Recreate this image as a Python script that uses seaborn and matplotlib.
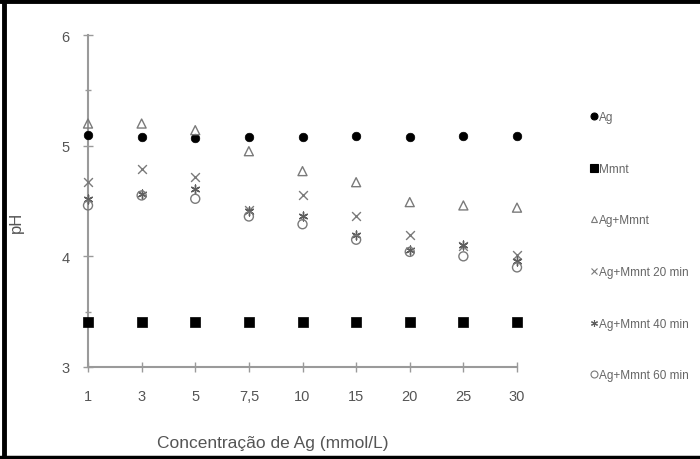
import matplotlib
matplotlib.use("Agg")
import matplotlib.pyplot as plt
from matplotlib.lines import Line2D
from matplotlib.ticker import MultipleLocator
import seaborn as sns
import pandas as pd

# Ag concentration levels (mmol/L) and the pH measured for each treatment
concentracoes = ["1", "3", "5", "7,5", "10", "15", "20", "25", "30"]
ph_ag = [5.10, 5.08, 5.07, 5.08, 5.08, 5.09, 5.08, 5.09, 5.09]
ph_mmnt = [3.41, 3.41, 3.41, 3.41, 3.41, 3.41, 3.41, 3.41, 3.41]
ph_ag_mmnt = [5.20, 5.20, 5.14, 4.95, 4.77, 4.67, 4.49, 4.46, 4.44]
ph_20min = [4.67, 4.79, 4.72, 4.42, 4.55, 4.36, 4.19, 4.09, 4.01]
ph_40min = [4.52, 4.56, 4.61, 4.41, 4.36, 4.19, 4.06, 4.10, 3.96]
ph_60min = [4.46, 4.55, 4.52, 4.36, 4.29, 4.15, 4.04, 4.00, 3.90]

series = [
    ("Ag", ph_ag, "o", "#000000", True, 38),
    ("Mmnt", ph_mmnt, "s", "#000000", True, 60),
    ("Ag+Mmnt", ph_ag_mmnt, "^", "#7a7a7a", False, 42),
    ("Ag+Mmnt 20 min", ph_20min, "x", "#7a7a7a", None, 40),
    ("Ag+Mmnt 40 min", ph_40min, (6, 2, 0), "#5e5e5e", None, 40),
    ("Ag+Mmnt 60 min", ph_60min, "o", "#7a7a7a", False, 42),
]

sns.set_style("white")
plt.rcParams["font.family"] = ["Liberation Sans", "DejaVu Sans"]

fig = plt.figure(figsize=(7.0, 4.6), dpi=100)
ax = fig.add_axes([88 / 700, 92 / 460, 429 / 700, 332 / 460])

for nome, valores, marcador, cor, cheio, tamanho in series:
    df = pd.DataFrame({"conc": concentracoes, "pH": valores})
    if cheio is True:
        sns.scatterplot(data=df, x="conc", y="pH", ax=ax, marker=marcador,
                        s=tamanho, color=cor, edgecolor=cor, linewidth=0.5,
                        zorder=3, clip_on=False)
    elif cheio is False:
        sns.scatterplot(data=df, x="conc", y="pH", ax=ax, marker=marcador,
                        s=tamanho, facecolors="none", edgecolors=cor,
                        linewidth=1.0, zorder=3, clip_on=False)
    else:
        sns.scatterplot(data=df, x="conc", y="pH", ax=ax, marker=marcador,
                        s=tamanho, color=cor, linewidth=1.0, zorder=3,
                        clip_on=False)

ax.set_xlim(0, len(concentracoes) - 1)
ax.set_ylim(3, 6)
ax.yaxis.set_major_locator(MultipleLocator(1))
ax.yaxis.set_minor_locator(MultipleLocator(0.5))

spine_cor = "#9a9a9a"
for lado in ["top", "right"]:
    ax.spines[lado].set_visible(False)
for lado in ["left", "bottom"]:
    ax.spines[lado].set_color(spine_cor)
    ax.spines[lado].set_linewidth(1.5)

ax.tick_params(axis="both", which="major", direction="inout", length=7,
               width=1.0, color=spine_cor, labelsize=10.5,
               labelcolor="#555555", bottom=True, left=True)
ax.tick_params(axis="y", which="minor", direction="inout", length=5,
               width=1.0, color=spine_cor, left=True)
ax.tick_params(axis="y", which="major", pad=10)
ax.tick_params(axis="x", which="major", pad=12)

ax.set_xlabel("Concentração de Ag (mmol/L)", fontsize=12.5, color="#555555")
ax.xaxis.set_label_coords(0.43, -0.205)
ax.set_ylabel("pH", fontsize=12, color="#555555")
ax.yaxis.set_label_coords(-0.15, 0.44)

handles = []
for nome, valores, marcador, cor, cheio, tamanho in series:
    if cheio is False:
        h = Line2D([], [], linestyle="none", marker=marcador, markersize=5,
                   markerfacecolor="none", markeredgecolor=cor,
                   markeredgewidth=0.8, label=nome)
    else:
        h = Line2D([], [], linestyle="none", marker=marcador,
                   markersize=5 if marcador != "s" else 6,
                   color=cor, markeredgewidth=0.8, label=nome)
    handles.append(h)

leg = ax.legend(handles=handles, loc="upper left",
                bbox_to_anchor=(590 / 700, 1 - 112 / 460),
                bbox_transform=fig.transFigure, frameon=False,
                handlelength=0.6, handletextpad=0.2, labelspacing=3.36,
                borderaxespad=0, borderpad=0,
                prop={"family": ["Liberation Sans Narrow", "Liberation Sans"],
                      "size": 8.5})
for t in leg.get_texts():
    t.set_color("#666666")

# black frame around the figure (top, left and bottom edges)
fig.add_artist(Line2D([0, 1], [1 - 2 / 460, 1 - 2 / 460],
                      transform=fig.transFigure, color="black", linewidth=3.5))
fig.add_artist(Line2D([3.5 / 700, 3.5 / 700], [0, 1],
                      transform=fig.transFigure, color="black", linewidth=3.5))
fig.add_artist(Line2D([0, 1], [2.5 / 460, 2.5 / 460],
                      transform=fig.transFigure, color="black", linewidth=2.5))

fig.savefig("out.png", dpi=100)
